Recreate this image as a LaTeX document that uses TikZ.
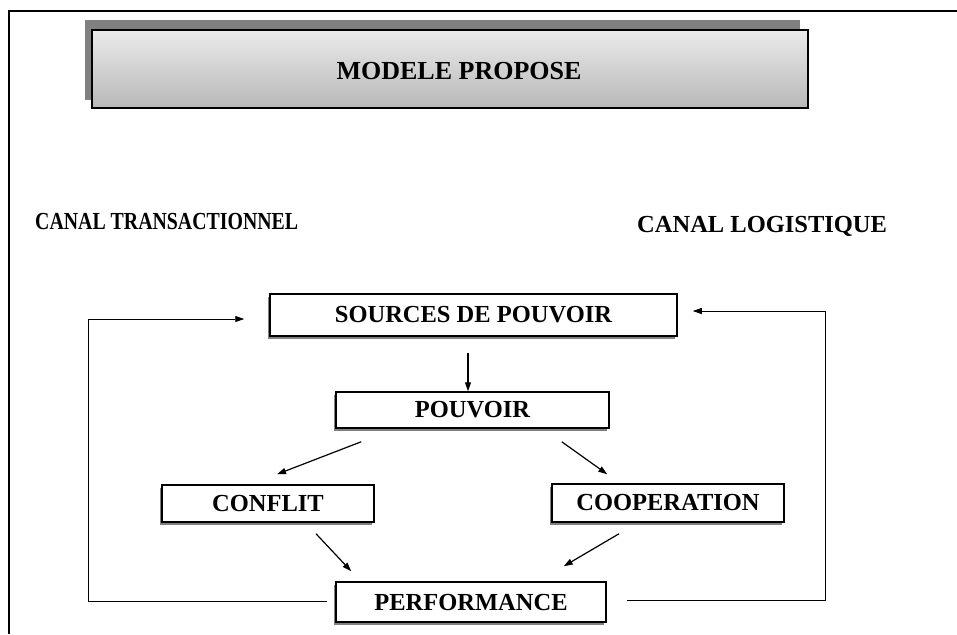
\documentclass[tikz,border=0pt]{standalone}
\usepackage{fontspec}
\setmainfont{Liberation Serif}
\usetikzlibrary{arrows.meta,shadows,calc}
\begin{document}
\begin{tikzpicture}[x=1pt,y=-1pt,
  boxlbl/.style={draw=black, line width=1.5pt, fill=white, inner sep=0pt,
    font=\fontsize{24.5}{26}\selectfont\bfseries,
    drop shadow={shadow xshift=-2.5pt, shadow yshift=-2.5pt, fill=black!50, opacity=1}},
  canal/.style={font=\fontsize{24.5}{26}\selectfont\bfseries, inner sep=0pt},
  tip/.style={-{Triangle[length=9pt,width=6pt]}},
  arr/.style={line width=1.2pt, tip},
  fb/.style={line width=0.9pt, tip}]
\useasboundingbox (0,0) rectangle (957,634);
% outer frame
\draw[line width=2pt, black] (9,634) -- (9,11) -- (957,11);
% header
\fill[black!50] (85,20) rectangle (800,100);
\draw[line width=1.5pt, top color=black!8, bottom color=black!28] (92,30) rectangle (808,108);
\node[font=\fontsize{26}{28}\selectfont\bfseries, inner sep=0pt] (title) at (459,71) {MODELE PROPOSE};
% channel labels
\node[canal, anchor=west] (ct) at (35,222) {\scalebox{0.81}[1]{CANAL TRANSACTIONNEL}};
\node[canal, anchor=west] (cl) at (637,226) {CANAL LOGISTIQUE};
% boxes
\node[boxlbl, minimum width=407pt, minimum height=42pt] (src) at (473.5,315) {SOURCES DE POUVOIR};
\node[boxlbl, minimum width=273pt, minimum height=36pt] (pouv) at (472.5,410) {POUVOIR};
\node[boxlbl, minimum width=212pt, minimum height=37pt] (conf) at (268,503.5) {CONFLIT};
\node[boxlbl, minimum width=232pt, minimum height=38pt] (coop) at (668,503) {COOPERATION};
\node[boxlbl, minimum width=270pt, minimum height=40pt] (perf) at (471,602) {PERFORMANCE};
% arrows
\draw[arr] ($(src.south)+(-5.5,16)$) -- ($(pouv.north)+(-4.5,0)$);
\draw[arr] ($(pouv.south west)+(26,13)$) -- ($(conf.north)+(9,-10)$);
\draw[arr] ($(pouv.south east)+(-48,13)$) -- ($(coop.north west)+(56,-9)$);
\draw[arr] ($(conf.south)+(48,11)$) -- ($(perf.north west)+(16,-10)$);
\draw[arr] ($(coop.south)+(-49,11)$) -- ($(perf.north east)+(-43,-15)$);
% feedback loops
\coordinate (lb) at (88,601);
\coordinate (rb) at (825,600);
\draw[fb] ($(perf.west)+(-8,-1)$) -- (lb) |- ($(src.west)+(-25,4)$);
\draw[fb] ($(perf.east)+(20,-2)$) -- (rb) |- ($(src.east)+(15,-4)$);
\end{tikzpicture}
\end{document}
